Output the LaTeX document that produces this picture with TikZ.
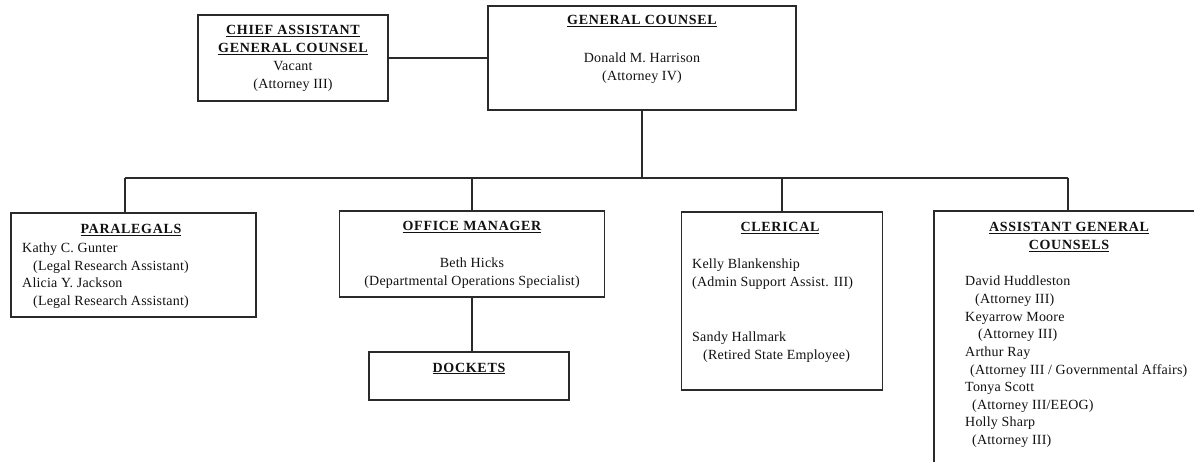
\documentclass[tikz,border=0pt]{standalone}
\usepackage{fontspec}
\setmainfont{Liberation Serif}[LetterSpace=1.5]
\newfontfamily\headfont{Liberation Serif}[LetterSpace=5]
\newcommand\hd[1]{{\headfont\bfseries\underline{#1}}}
\definecolor{linegray}{HTML}{2A2A2A}
\definecolor{inkgray}{HTML}{111111}

\tikzset{
  box/.style={draw=linegray, line width=1.1pt, inner sep=0pt, outer sep=0pt},
  link/.style={draw=linegray, line width=1.1pt},
  txt/.style={anchor=base, inner sep=0pt, text=inkgray, font=\fontsize{14}{17.6}\selectfont},
  ltxt/.style={txt, anchor=base west},
}

\begin{document}
\begin{tikzpicture}[x=1pt, y=-1pt]
  \fill[white] (0,0) rectangle (1194,462);
  \useasboundingbox (0,0) rectangle (1194,462);

  % top level
  \node[box, minimum width=190pt, minimum height=86pt] (chief) at (293,58) {};
  \node[box, minimum width=308pt, minimum height=104pt] (gc) at (642,58) {};

  % second level
  \node[box, minimum width=245pt, minimum height=104pt] (para) at (133.5,265) {};
  \node[box, minimum width=265pt, minimum height=86pt] (om) at (472,254) {};
  \node[box, minimum width=200pt, minimum height=48pt] (dock) at (469,376) {};
  \node[box, minimum width=201pt, minimum height=178pt] (cler) at (782,301) {};
  \begin{scope}
    \clip (0,0) rectangle (1194,462);
    \node[box, minimum width=268pt, minimum height=280pt] (agc) at (1068,351) {};
  \end{scope}

  % connectors
  \coordinate (bus) at (642,178);
  \coordinate (ptop) at ([xshift=-8.5pt]para.north);
  \draw[link] (chief.east) -- (chief.east -| gc.west);
  \draw[link] (gc.south) -- (bus);
  \draw[link] (bus -| ptop) -- (bus -| agc.north);
  \draw[link] (bus -| ptop) -- (ptop);
  \draw[link] (bus -| om.north) -- (om.north);
  \draw[link] (bus -| cler.north) -- (cler.north);
  \draw[link] (bus -| agc.north) -- (agc.north);
  \draw[link] (om.south) -- (om.south |- dock.north);

  % chief assistant general counsel
  \node[txt] (chief1) at (293,35) {\hd{CHIEF ASSISTANT}};
  \node[txt] (chief2) at (293,52.6) {\hd{GENERAL COUNSEL}};
  \node[txt] (chief3) at (293,71) {Vacant};
  \node[txt] (chief4) at (293,88.6) {(Attorney III)};

  % general counsel
  \node[txt] (gc1) at (642,25) {\hd{GENERAL COUNSEL}};
  \node[txt] (gc2) at (642,63) {Donald M. Harrison};
  \node[txt] (gc3) at (642,80.6) {(Attorney IV)};

  % paralegals
  \node[txt] (para1) at (131,234) {\hd{PARALEGALS}};
  \node[ltxt] (para2) at (22,252.5) {Kathy C. Gunter};
  \node[ltxt] (para3) at (33,270.1) {(Legal Research Assistant)};
  \node[ltxt] (para4) at (22,287.7) {Alicia Y. Jackson};
  \node[ltxt] (para5) at (33,305.3) {(Legal Research Assistant)};

  % office manager and dockets
  \node[txt] (om1) at (472,231) {\hd{OFFICE MANAGER}};
  \node[txt] (om2) at (472,268) {Beth Hicks};
  \node[txt] (om3) at (472,285.6) {(Departmental Operations Specialist)};
  \node[txt] (dock1) at (469,372) {\hd{DOCKETS}};

  % clerical
  \node[txt] (cler1) at (780,232) {\hd{CLERICAL}};
  \node[ltxt] (cler2) at (692,269) {Kelly Blankenship};
  \node[ltxt] (cler3) at (692,286.6) {(Admin Support Assist. III)};
  \node[ltxt] (cler4) at (692,341.8) {Sandy Hallmark};
  \node[ltxt] (cler5) at (703,359.4) {(Retired State Employee)};

  % assistant general counsels
  \node[txt] (agc1) at (1069,232) {\hd{ASSISTANT GENERAL}};
  \node[txt] (agc2) at (1069,249.6) {\hd{COUNSELS}};
  \node[ltxt] (agc3) at (965,286) {David Huddleston};
  \node[ltxt] (agc4) at (975,303.6) {(Attorney III)};
  \node[ltxt] (agc5) at (965,321.2) {Keyarrow Moore};
  \node[ltxt] (agc6) at (978,338.8) {(Attorney III)};
  \node[ltxt] (agc7) at (965,356.4) {Arthur Ray};
  \node[ltxt] (agc8) at (970,374) {(Attorney III / Governmental Affairs)};
  \node[ltxt] (agc9) at (965,391.6) {Tonya Scott};
  \node[ltxt] (agc10) at (972,409.2) {(Attorney III/EEOG)};
  \node[ltxt] (agc11) at (965,426.8) {Holly Sharp};
  \node[ltxt] (agc12) at (972,444.4) {(Attorney III)};
\end{tikzpicture}
\end{document}
